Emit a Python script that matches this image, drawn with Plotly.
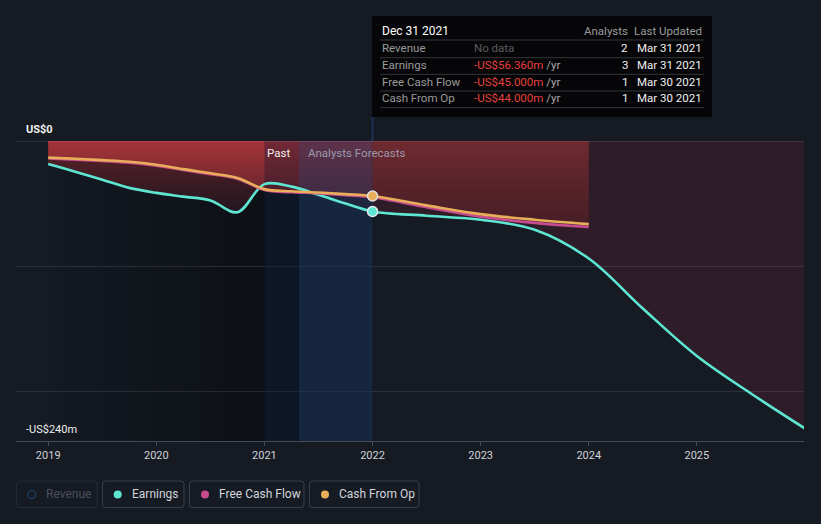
import plotly.graph_objects as go

# ---------------- data ----------------
EARN_YEARS = [2019.0, 2019.25, 2019.5, 2019.75, 2020.0, 2020.25, 2020.5, 2020.75, 2021.0,
              2021.25, 2021.5, 2021.75, 2022.0, 2022.5, 2023.0, 2023.5, 2024.0, 2024.5,
              2025.0, 2025.5, 2026.0]
EARNINGS = [-18.4, -24.5, -31.0, -37.5, -41.5, -44.5, -47.5, -57.0, -34.5,
            -36.5, -43.0, -50.0, -56.36, -59.8, -63.0, -71.0, -94.0, -134.0,
            -172.0, -202.0, -230.0]

CF_YEARS = [2019.0, 2019.25, 2019.5, 2019.75, 2020.0, 2020.25, 2020.5, 2020.75, 2021.0,
            2021.25, 2021.5, 2021.75, 2022.0, 2022.5, 2023.0, 2023.5, 2024.0]
CASH_FROM_OP = [-13.3, -14.2, -15.3, -16.6, -19.0, -22.5, -25.8, -29.5, -38.5,
                -40.2, -41.2, -42.5, -44.0, -51.5, -58.5, -63.0, -66.5]
FREE_CASH_FLOW = [-14.0, -14.9, -16.0, -17.3, -19.7, -23.2, -26.5, -30.2, -39.2,
                  -40.9, -41.9, -43.3, -45.0, -53.0, -60.5, -65.5, -68.8]

X_TICKS = [2019, 2020, 2021, 2022, 2023, 2024, 2025]
X_TICK_LABELS = ["2019", "2020", "2021", "2022", "2023", "2024", "2025"]
X_RANGE = [2018.702, 2025.991]
Y_RANGE = [-240, 0]
Y_GRID = [-100, -200]
Y_TOP_LABEL = "US$0"
Y_BOTTOM_LABEL = "-US$240m"

PAST_START = 2021.0
PAST_SPLIT = 2021.32
FORECAST_START = 2022.0
DARK_START = 2019.0

TOOLTIP_TITLE = "Dec 31 2021"
TOOLTIP_HEAD = ["Analysts", "Last Updated"]
TOOLTIP_LABELS = ["Revenue", "Earnings", "Free Cash Flow", "Cash From Op"]
TOOLTIP_VALUES = ["No data", "-US$56.360m", "-US$45.000m", "-US$44.000m"]
TOOLTIP_ANALYSTS = ["2", "3", "1", "1"]
TOOLTIP_UPDATED = ["Mar 31 2021", "Mar 31 2021", "Mar 30 2021", "Mar 30 2021"]

LEGEND_NAMES = ["Revenue", "Earnings", "Free Cash Flow", "Cash From Op"]

# ---------------- style ----------------
BG = "#151a23"
TEAL = "#5ee6d2"
ORANGE = "#e9ae59"
MAGENTA = "#c94b8f"
FONT = "Roboto"
TT_SIZE = 11.5

W, H = 821, 524
ML, MR, MT, MB = 16, 17, 141, 83
PW, PH = W - ML - MR, H - MT - MB


def px(x):
    return (x - ML) / PW


def py(y):
    return (MT + PH - y) / PH


def split(xs, ys, lo, hi):
    pts = [(x, y) for x, y in zip(xs, ys) if lo <= x <= hi]
    return [p[0] for p in pts], [p[1] for p in pts]


fig = go.Figure()

# earnings fills
ex_p, ey_p = split(EARN_YEARS, EARNINGS, 0, FORECAST_START)
ex_f, ey_f = split(EARN_YEARS, EARNINGS, FORECAST_START, 9999)
fig.add_trace(go.Scatter(
    x=ex_p, y=ey_p, mode="lines", line=dict(width=0, shape="spline"), fill="tozeroy",
    fillgradient=dict(type="vertical", start=-55, stop=0,
                      colorscale=[[0, "rgb(36,23,31)"], [1, "rgb(96,33,41)"]]),
    hoverinfo="skip", showlegend=False))
fig.add_trace(go.Scatter(
    x=ex_f, y=ey_f, mode="lines", line=dict(width=0, shape="spline"), fill="tozeroy",
    fillcolor="rgba(230,60,80,0.12)", hoverinfo="skip", showlegend=False))

# cash fills
cx_p, cy_p = split(CF_YEARS, CASH_FROM_OP, 0, FORECAST_START)
cx_f, cy_f = split(CF_YEARS, CASH_FROM_OP, FORECAST_START, 9999)
fig.add_trace(go.Scatter(
    x=cx_p, y=cy_p, mode="lines", line=dict(width=0, shape="spline"), fill="tozeroy",
    fillgradient=dict(type="vertical", start=-38, stop=0,
                      colorscale=[[0, "rgb(112,39,45)"], [1, "rgb(164,52,57)"]]),
    hoverinfo="skip", showlegend=False))
fig.add_trace(go.Scatter(
    x=cx_f, y=cy_f, mode="lines", line=dict(width=0, shape="spline"), fill="tozeroy",
    fillgradient=dict(type="vertical", start=-65, stop=0,
                      colorscale=[[0, "rgb(72,30,38)"], [1, "rgb(110,42,48)"]]),
    hoverinfo="skip", showlegend=False))

# past / forecast bands (drawn between fills and lines)
fig.add_trace(go.Scatter(
    x=[PAST_START, PAST_SPLIT, PAST_SPLIT, PAST_START], y=[Y_RANGE[1], Y_RANGE[1], Y_RANGE[0], Y_RANGE[0]],
    mode="lines", line=dict(width=0), fill="toself", fillcolor="rgba(0,15,45,0.30)",
    hoverinfo="skip", showlegend=False))
fig.add_trace(go.Scatter(
    x=[PAST_SPLIT, FORECAST_START, FORECAST_START, PAST_SPLIT], y=[Y_RANGE[1], Y_RANGE[1], Y_RANGE[0], Y_RANGE[0]],
    mode="lines", line=dict(width=0), fill="toself", fillcolor="rgba(23,49,91,0.50)",
    hoverinfo="skip", showlegend=False))

# lines
fig.add_trace(go.Scatter(x=EARN_YEARS, y=EARNINGS, mode="lines",
                         line=dict(color=TEAL, width=2.6, shape="spline"), showlegend=False))
fig.add_trace(go.Scatter(x=CF_YEARS, y=FREE_CASH_FLOW, mode="lines",
                         line=dict(color=MAGENTA, width=2.6, shape="spline"), showlegend=False))
fig.add_trace(go.Scatter(x=CF_YEARS, y=CASH_FROM_OP, mode="lines",
                         line=dict(color=ORANGE, width=2.6, shape="spline"), showlegend=False))

# markers at forecast start
i_e = EARN_YEARS.index(FORECAST_START)
i_c = CF_YEARS.index(FORECAST_START)
fig.add_trace(go.Scatter(x=[EARN_YEARS[i_e]], y=[EARNINGS[i_e]], mode="markers",
                         marker=dict(size=10, color=TEAL, line=dict(color="#e8eef2", width=1.5)),
                         showlegend=False))
fig.add_trace(go.Scatter(x=[CF_YEARS[i_c]], y=[CASH_FROM_OP[i_c]], mode="markers",
                         marker=dict(size=10, color=ORANGE, line=dict(color="#e0e0e0", width=1.5)),
                         showlegend=False))

shapes = []
# left darkening gradient (past)
N = 24
step = (PAST_START - DARK_START) / N
for k in range(N):
    a = 0.36 * (k + 1) / N
    shapes.append(dict(type="rect", xref="x", yref="y", x0=DARK_START + k * step,
                       x1=DARK_START + (k + 1) * step + 0.002, y0=Y_RANGE[0], y1=Y_RANGE[1],
                       fillcolor=f"rgba(0,0,0,{a:.3f})", line=dict(width=0), layer="below"))
# top line
shapes.append(dict(type="line", xref="paper", yref="y", x0=0, x1=1, y0=0, y1=0,
                   line=dict(color="rgba(255,255,255,0.2)", width=1), layer="above"))
# connector line to tooltip
shapes.append(dict(type="line", xref="x", yref="paper", x0=FORECAST_START, x1=FORECAST_START,
                   y0=1, y1=py(117), line=dict(color="#1b3252", width=2), layer="above"))
# tooltip box
shapes.append(dict(type="rect", xref="paper", yref="paper", x0=px(372), x1=px(712),
                   y0=py(117), y1=py(16), fillcolor="#060608", line=dict(width=0), layer="above"))
for sy in [40, 57.7, 74.3, 91, 107.7]:
    shapes.append(dict(type="line", xref="paper", yref="paper", x0=px(380), x1=px(704),
                       y0=py(sy), y1=py(sy), line=dict(color="#34363b", width=1), layer="above"))


def rrect_path(x0, y0, x1, y1, r):
    def P(x, y):
        return f"{px(x):.5f},{py(y):.5f}"
    return (f"M {P(x0 + r, y0)} L {P(x1 - r, y0)} Q {P(x1, y0)} {P(x1, y0 + r)} "
            f"L {P(x1, y1 - r)} Q {P(x1, y1)} {P(x1 - r, y1)} L {P(x0 + r, y1)} "
            f"Q {P(x0, y1)} {P(x0, y1 - r)} L {P(x0, y0 + r)} Q {P(x0, y0)} {P(x0 + r, y0)} Z")


LEG_BOX = [(16.5, 97), (102.5, 184), (189.5, 304), (309.5, 419)]
LEG_DOT = [31.7, 117.7, 205, 325]
LEG_TXT = [44.3, 130, 217.3, 337.3]
LEG_COL = [None, TEAL, MAGENTA, ORANGE]
annotations = []
for i, name in enumerate(LEGEND_NAMES):
    bx0, bx1 = LEG_BOX[i]
    shapes.append(dict(type="path", xref="paper", yref="paper",
                       path=rrect_path(bx0, 481, bx1, 507.5, 3),
                       line=dict(color="#252a33" if i == 0 else "#3a404a", width=1),
                       fillcolor="rgba(0,0,0,0)", layer="above"))
    cxp = LEG_DOT[i]
    r = 4
    if i == 0:
        shapes.append(dict(type="circle", xref="paper", yref="paper", x0=px(cxp - r), x1=px(cxp + r),
                           y0=py(494.5 + r), y1=py(494.5 - r), line=dict(color="#1f3b5c", width=1.5),
                           fillcolor="rgba(0,0,0,0)", layer="above"))
    else:
        shapes.append(dict(type="circle", xref="paper", yref="paper", x0=px(cxp - r), x1=px(cxp + r),
                           y0=py(494.5 + r), y1=py(494.5 - r), line=dict(width=0),
                           fillcolor=LEG_COL[i], layer="above"))
    annotations.append(dict(xref="paper", yref="paper", x=px(LEG_TXT[i]), y=py(494.5),
                            xanchor="left", yanchor="middle", showarrow=False, text=name,
                            font=dict(family=FONT, size=12, color="#4b515b" if i == 0 else "#d2d5da")))

# axis labels
annotations.append(dict(xref="paper", yref="paper", x=px(24), y=py(129), xanchor="left",
                        yanchor="middle", showarrow=False, text=f"<b>{Y_TOP_LABEL}</b>",
                        font=dict(family=FONT, size=11, color="#f0f0f0")))
annotations.append(dict(xref="paper", yref="paper", x=px(24), y=py(429), xanchor="left",
                        yanchor="middle", showarrow=False, text=Y_BOTTOM_LABEL,
                        font=dict(family=FONT, size=11, color="#f0f0f0")))
# past / forecast labels
annotations.append(dict(xref="x", yref="paper", x=PAST_SPLIT, y=py(153), xanchor="right",
                        yanchor="middle", showarrow=False, text="Past", xshift=-7,
                        font=dict(family=FONT, size=11.5, color="#f0f0f0")))
annotations.append(dict(xref="x", yref="paper", x=PAST_SPLIT, y=py(153), xanchor="left",
                        yanchor="middle", showarrow=False, text="Analysts Forecasts", xshift=7,
                        font=dict(family=FONT, size=11.5, color="#9c9aab")))

# tooltip text
annotations.append(dict(xref="paper", yref="paper", x=px(380), y=py(30.7), xanchor="left",
                        yanchor="middle", showarrow=False, text=TOOLTIP_TITLE,
                        font=dict(family=FONT, size=12, color="#ffffff")))
annotations.append(dict(xref="paper", yref="paper", x=px(629.5), y=py(30.7), xanchor="right",
                        yanchor="middle", showarrow=False, text=TOOLTIP_HEAD[0],
                        font=dict(family=FONT, size=TT_SIZE, color="#9a9a9a")))
annotations.append(dict(xref="paper", yref="paper", x=px(704), y=py(30.7), xanchor="right",
                        yanchor="middle", showarrow=False, text=TOOLTIP_HEAD[1],
                        font=dict(family=FONT, size=TT_SIZE, color="#9a9a9a")))
ROW_Y = [48.3, 65, 81.7, 98.3]
for i in range(4):
    yy = py(ROW_Y[i])
    annotations.append(dict(xref="paper", yref="paper", x=px(380), y=yy, xanchor="left",
                            yanchor="middle", showarrow=False, text=TOOLTIP_LABELS[i],
                            font=dict(family=FONT, size=TT_SIZE, color="#9a9a9a")))
    if TOOLTIP_VALUES[i] == "No data":
        vtxt = TOOLTIP_VALUES[i]
        vcol = "#5c5c5c"
    else:
        vtxt = f"<span style='color:#e5413f'>{TOOLTIP_VALUES[i]}</span> /yr"
        vcol = "#a8a8a8"
    annotations.append(dict(xref="paper", yref="paper", x=px(471.5), y=yy, xanchor="left",
                            yanchor="middle", showarrow=False, text=vtxt,
                            font=dict(family=FONT, size=TT_SIZE, color=vcol)))
    annotations.append(dict(xref="paper", yref="paper", x=px(629.5), y=yy, xanchor="right",
                            yanchor="middle", showarrow=False, text=TOOLTIP_ANALYSTS[i],
                            font=dict(family=FONT, size=TT_SIZE, color="#f0f0f0")))
    annotations.append(dict(xref="paper", yref="paper", x=px(704), y=yy, xanchor="right",
                            yanchor="middle", showarrow=False, text=TOOLTIP_UPDATED[i],
                            font=dict(family=FONT, size=TT_SIZE, color="#f0f0f0")))

fig.update_layout(
    width=W, height=H,
    margin=dict(l=ML, r=MR, t=MT, b=MB, pad=0),
    paper_bgcolor=BG, plot_bgcolor=BG,
    showlegend=False, hovermode=False,
    shapes=shapes, annotations=annotations,
    xaxis=dict(range=X_RANGE, tickvals=X_TICKS, ticktext=X_TICK_LABELS, showgrid=False,
               zeroline=False, showline=True, linecolor="#464a52", linewidth=1,
               ticks="outside", ticklen=4, tickcolor="#464a52",
               tickfont=dict(family=FONT, size=11, color="#cfd2d6")),
    yaxis=dict(range=Y_RANGE, tickvals=Y_GRID, showticklabels=False, showgrid=True,
               gridcolor="rgba(255,255,255,0.10)", gridwidth=1, zeroline=False, showline=False),
)

fig.write_html("out.html", config={"displayModeBar": False},
               post_script="document.body.style.margin='0';document.body.style.background='#151a23';")
